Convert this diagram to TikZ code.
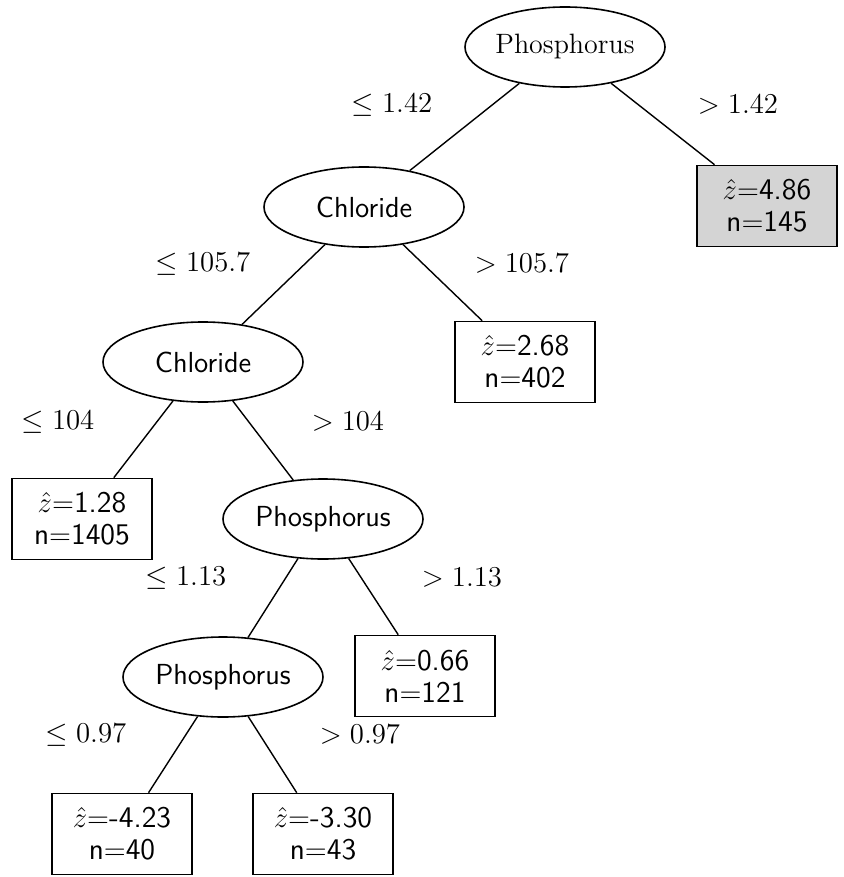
\documentclass[tikz,border=0pt]{standalone}
\usetikzlibrary{shapes.geometric}
\begin{document}
\begin{tikzpicture}[x=0.5pt,y=-0.5pt,
  splitnode/.style={ellipse,draw,line width=0.8pt,minimum width=100pt,minimum height=40pt,inner sep=0pt,font=\sffamily\fontsize{14.5}{15}\selectfont},
  leafnode/.style={rectangle,draw,line width=0.8pt,minimum width=70pt,minimum height=40.5pt,inner sep=0pt,align=center,font=\sffamily\fontsize{15}{16}\selectfont},
  condlabel/.style={inner sep=0pt,font=\fontsize{14}{15}\selectfont},
  edgeline/.style={line width=0.7pt}]
\useasboundingbox (0,0) rectangle (843,877);
\definecolor{leafgray}{RGB}{212,212,212}
% split nodes
\node[splitnode,font=\rmfamily\fontsize{14}{15}\selectfont] (p1) at (565,47) {Phosphorus};
\node[splitnode] (c1) at (364,207) {Chloride};
\node[splitnode] (c2) at (203,362) {Chloride};
\node[splitnode] (p2) at (323,519) {Phosphorus};
\node[splitnode] (p3) at (223,677) {Phosphorus};
% leaves
\node[leafnode,fill=leafgray] (l1) at (767,206) {$\hat{z}{=}$4.86\\n{$=$}145};
\node[leafnode] (l2) at (525,362) {$\hat{z}{=}$2.68\\n{$=$}402};
\node[leafnode] (l3) at (82,519) {$\hat{z}{=}$1.28\\n{$=$}1405};
\node[leafnode] (l4) at (425,676) {$\hat{z}{=}$0.66\\n{$=$}121};
\node[leafnode] (l5) at (122,834) {$\hat{z}{=}$-4.23\\n{$=$}40};
\node[leafnode] (l6) at (323,834) {$\hat{z}{=}$-3.30\\n{$=$}43};
% edges
\draw[edgeline] (p1) -- (c1);
\draw[edgeline] (p1) -- (l1);
\draw[edgeline] (c1) -- (c2);
\draw[edgeline] (c1) -- (l2);
\draw[edgeline] (c2) -- (l3);
\draw[edgeline] (c2) -- (p2);
\draw[edgeline] (p2) -- (p3);
\draw[edgeline] (p2) -- (l4);
\draw[edgeline] (p3) -- (l5);
\draw[edgeline] (p3) -- (l6);
% condition labels
\node[condlabel] (t1) at (392,105) {$\leq 1.42$};
\node[condlabel] (t2) at (738,105) {$> 1.42$};
\node[condlabel] (t3) at (203,264) {$\leq 105.7$};
\node[condlabel] (t4) at (522,264) {$> 105.7$};
\node[condlabel] (t5) at (58,422) {$\leq 104$};
\node[condlabel] (t6) at (348,422) {$> 104$};
\node[condlabel] (t7) at (186,578) {$\leq 1.13$};
\node[condlabel] (t8) at (462,578) {$> 1.13$};
\node[condlabel] (t9) at (86,735) {$\leq 0.97$};
\node[condlabel] (t10) at (360,735) {$> 0.97$};
\end{tikzpicture}
\end{document}
